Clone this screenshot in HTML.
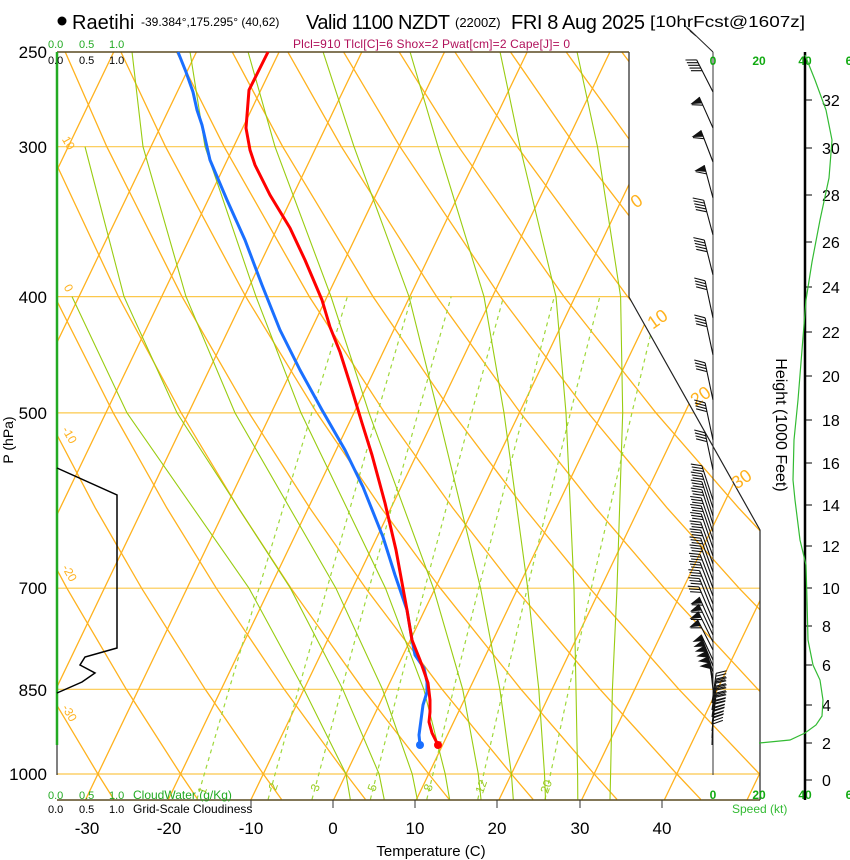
<!DOCTYPE html>
<html><head><meta charset="utf-8"><style>
html,body{margin:0;padding:0;background:#fff;}
svg{display:block;font-family:"Liberation Sans",sans-serif;}
</style></head><body>
<svg width="850" height="860" viewBox="0 0 850 860" xmlns="http://www.w3.org/2000/svg">
<defs>
<clipPath id="cp"><polygon points="57,52 629,52 629,297 760,530 760,800 57,800"/></clipPath>
<g id="b5" fill="none" stroke="#111" stroke-width="1.1"><path d="M0,0L0,-36M0,-36l-10,-5M0,-33l-10,-5M0,-30l-10,-5M0,-27l-10,-5M0,-24l-10,-5"/></g>
<g id="b4" fill="none" stroke="#111" stroke-width="1.1"><path d="M0,0L0,-38M0,-38l-10,-5M0,-35l-10,-5M0,-32l-10,-5M0,-29l-10,-5"/></g>
<g id="b3" fill="none" stroke="#111" stroke-width="1.1"><path d="M0,0L0,-36M0,-36l-10,-5M0,-33l-10,-5M0,-30l-10,-5"/></g>
<g id="bf"><path d="M0,0L0,-34M0,-25l-10,-5" fill="none" stroke="#111" stroke-width="1.1"/><polygon points="0,-34 -11,-31 0,-27" fill="#111"/></g>
<g id="bff"><path d="M0,0L0,-28" fill="none" stroke="#111" stroke-width="1.1"/><polygon points="0,-28 -11,-25 0,-21" fill="#111"/></g>
<g id="bR" fill="none" stroke="#111" stroke-width="1.1"><path d="M0,0L0,-30M0,-30l10,-4M0,-27l10,-4M0,-24l10,-4M0,-21l10,-4"/></g>
</defs>
<g clip-path="url(#cp)" fill="none">
<g stroke="#fcc84c" stroke-width="1.2">
<line x1="57" x2="760" y1="146.7" y2="146.7"/><line x1="57" x2="760" y1="296.6" y2="296.6"/><line x1="57" x2="760" y1="412.9" y2="412.9"/>
<line x1="57" x2="760" y1="588.2" y2="588.2"/><line x1="57" x2="760" y1="689.3" y2="689.3"/><line x1="57" x2="760" y1="774" y2="774"/>
</g>
<g stroke="#ffb21e" stroke-width="1.3">
<line x1="-245.4" y1="800" x2="113.7" y2="52"/><line x1="-162.7" y1="800" x2="196.4" y2="52"/><line x1="-80" y1="800" x2="279.1" y2="52"/>
<line x1="2.7" y1="800" x2="361.8" y2="52"/><line x1="85.4" y1="800" x2="444.5" y2="52"/><line x1="168.1" y1="800" x2="527.2" y2="52"/>
<line x1="250.8" y1="800" x2="609.9" y2="52"/><line x1="333.5" y1="800" x2="692.6" y2="52"/><line x1="416.2" y1="800" x2="775.3" y2="52"/>
<line x1="498.9" y1="800" x2="858" y2="52"/><line x1="581.6" y1="800" x2="940.7" y2="52"/><line x1="664.3" y1="800" x2="1023.4" y2="52"/>
<line x1="747" y1="800" x2="1106.1" y2="52"/>
</g>
<g stroke="#ffb21e" stroke-width="1.3">
<polyline points="113.8,799.4 97.9,774 47.3,689.3 -7.8,588.2 -47.6,507.9 -90.2,412.9"/>
<polyline points="197.7,799.4 180.6,774 126.3,689.3 66.9,588.2 23.9,507.9 -22.4,412.9 -72.6,296.6"/>
<polyline points="281.5,799.4 263.3,774 205.2,689.3 141.6,588.2 95.3,507.9 45.5,412.9 -8.9,296.6 -69,146.7"/>
<polyline points="365.4,799.4 346,774 284.2,689.3 216.3,588.2 166.8,507.9 113.3,412.9 54.7,296.6 -10.4,146.7 -46.2,51.7"/>
<polyline points="449.2,799.4 428.7,774 363.1,689.3 291,588.2 238.3,507.9 181.2,412.9 118.4,296.6 48.2,146.7 9.5,51.7"/>
<polyline points="533.1,799.4 511.4,774 442.1,689.3 365.7,588.2 309.7,507.9 249,412.9 182,296.6 106.8,146.7 65.1,51.7"/>
<polyline points="617,799.4 594.1,774 521,689.3 440.3,588.2 381.2,507.9 316.8,412.9 245.7,296.6 165.5,146.7 120.8,51.7"/>
<polyline points="700.8,799.4 676.8,774 600,689.3 515,588.2 452.7,507.9 384.7,412.9 309.3,296.6 224.1,146.7 176.4,51.7"/>
<polyline points="784.7,799.4 759.5,774 678.9,689.3 589.7,588.2 524.2,507.9 452.5,412.9 373,296.6 282.7,146.7 232.1,51.7"/>
<polyline points="868.5,799.4 842.2,774 757.9,689.3 664.4,588.2 595.6,507.9 520.4,412.9 436.6,296.6 341.4,146.7 287.7,51.7"/>
<polyline points="952.4,799.4 924.9,774 836.8,689.3 739.1,588.2 667.1,507.9 588.2,412.9 500.3,296.6 400,146.7 343.4,51.7"/>
<polyline points="1036.2,799.4 1007.6,774 915.8,689.3 813.8,588.2 738.6,507.9 656,412.9 563.9,296.6 458.6,146.7 399,51.7"/>
<polyline points="1120.1,799.4 1090.3,774 994.7,689.3 888.5,588.2 810,507.9 723.9,412.9 627.6,296.6 517.3,146.7 454.7,51.7"/>
<polyline points="1204,799.4 1173,774 1073.7,689.3 963.2,588.2 881.5,507.9 791.7,412.9 691.2,296.6 575.9,146.7 510.3,51.7"/>
<polyline points="1287.8,799.4 1255.7,774 1152.6,689.3 1037.9,588.2 953,507.9 859.6,412.9 754.9,296.6 634.5,146.7 566,51.7"/>
<polyline points="1371.7,799.4 1338.4,774 1231.6,689.3 1112.6,588.2 1024.5,507.9 927.4,412.9 818.5,296.6 693.1,146.7 621.6,51.7"/>
</g>
<g stroke="#9fd83a" stroke-width="1.2" stroke-dasharray="4,4">
<polyline points="196.9,799.4 229.1,689.3 259,588.2 311.8,412.9 347.4,296.6"/>
<polyline points="268.1,799.4 298.5,689.3 327,588.2 377.5,412.9 411.6,296.6"/>
<polyline points="312,799.4 341.6,689.3 369.1,588.2 418.1,412.9 451.2,296.6"/>
<polyline points="370.4,799.4 398.4,689.3 424.8,588.2 471.7,412.9 503.6,296.6"/>
<polyline points="426.8,799.4 453.6,689.3 478.7,588.2 523.7,412.9 554.3,296.6"/>
<polyline points="477.8,799.4 503.3,689.3 527.3,588.2 570.4,412.9 599.8,296.6"/>
<polyline points="545,799.4 568.8,689.3 591.3,588.2 631.9,412.9 659.7,296.6"/>
</g>
<g stroke="#99cc11" stroke-width="1.1">
<polyline points="350.3,799.4 346,774 303.9,689.3 249,588.2 127,412.9 72,296.6"/>
<polyline points="384.2,799.4 379.1,774 342.8,689.3 290.4,588.2 177,412.9 124,296.6 85,146.7"/>
<polyline points="417.3,799.4 412.2,774 382.5,689.3 335.9,588.2 235,412.9 186,296.6 143,146.7 132,51.7"/>
<polyline points="449.6,799.4 445.2,774 423.8,689.3 385.5,588.2 301,412.9 256,296.6 205,146.7 190,51.7"/>
<polyline points="481,799.4 478.3,774 462.7,689.3 433.4,588.2 369,412.9 331,296.6 275,146.7 248,51.7"/>
<polyline points="513.3,799.4 511.4,774 499.9,689.3 480.6,588.2 438,412.9 409,296.6 354,146.7 323,51.7"/>
<polyline points="545.5,799.4 544.5,774 538.8,689.3 527.7,588.2 504,412.9 484,296.6 438,146.7 410,51.7"/>
<polyline points="577.8,799.4 577.6,774 576,689.3 574,588.2 566,412.9 556,296.6 520,146.7 500,51.7"/>
<polyline points="610,799.4 610.6,774 612.4,689.3 617,588.2 622.7,412.9 620.6,296.6 597.5,146.7 577,51.7"/>
</g>
</g>
<polyline points="629,52 629,297 760,530 760,800" fill="none" stroke="#222" stroke-width="1.2"/>
<line x1="57" x2="629" y1="52" y2="52" stroke="#5a4a20" stroke-width="1.5"/>
<line x1="57" x2="760" y1="800" y2="800" stroke="#5a4a20" stroke-width="1.5"/>
<g stroke="#333"><line x1="251" x2="251" y1="800" y2="808"/><line x1="333" x2="333" y1="800" y2="808"/><line x1="415" x2="415" y1="800" y2="808"/><line x1="497" x2="497" y1="800" y2="808"/><line x1="580" x2="580" y1="800" y2="808"/><line x1="662" x2="662" y1="800" y2="808"/></g>
<line x1="57" x2="57" y1="52" y2="745" stroke="#22aa22" stroke-width="2.5"/>
<line x1="57" x2="57" y1="745" y2="775" stroke="#000" stroke-width="1"/>
<polyline points="57,468 117,495 117,648 85,657 80,665 95,673 82,682 57,693" fill="none" stroke="#000" stroke-width="1.5"/>
<g fill="#ffb21e" font-size="12" text-anchor="middle">
<text transform="translate(65,145) rotate(60)">10</text><text transform="translate(65,290) rotate(60)">0</text>
<text transform="translate(66,437) rotate(60)">-10</text><text transform="translate(66,575) rotate(60)">-20</text><text transform="translate(66,715) rotate(60)">-30</text>
</g>
<g fill="#ffb21e" font-size="18" text-anchor="middle">
<text transform="translate(640,206) rotate(-35)">0</text><text transform="translate(661,324) rotate(-35)">10</text>
<text transform="translate(704,401) rotate(-35)">20</text><text transform="translate(745,484) rotate(-35)">30</text>
</g>
<g fill="#99cc22" font-size="12" text-anchor="middle">
<text transform="translate(206,792) rotate(-70)">1</text><text transform="translate(277,788) rotate(-70)">2</text>
<text transform="translate(319,789) rotate(-70)">3</text><text transform="translate(376,789) rotate(-70)">5</text>
<text transform="translate(432,789) rotate(-70)">8</text><text transform="translate(485,788) rotate(-70)">12</text>
<text transform="translate(550,788) rotate(-70)">20</text>
</g>
<polyline fill="none" stroke="#1a6fff" stroke-width="3" stroke-linejoin="round" points="178,52 186,72 193,92 197,110 202,125 210,160 227,200 245,240 262,285 280,330 300,370 322,410 345,450 363,487 383,537 395,575 407,610 412,640 415,655 424,668 427,682 427,692 423,705 421,720 419,735 420,745"/>
<polyline fill="none" stroke="#ff0000" stroke-width="3" stroke-linejoin="round" points="268,52 259,70 249,90 246,128 250,150 255,165 270,195 290,228 305,260 322,300 330,327 340,352 352,390 362,423 372,455 385,503 396,550 407,610 412,640 420,660 428,683 430,700 430,712 429,722 432,733 438,745"/>
<circle cx="420" cy="745" r="4" fill="#1a6fff"/><circle cx="438" cy="745" r="4" fill="#ff0000"/>
<line x1="713" x2="713" y1="52" y2="775" stroke="#333" stroke-width="1"/>
<line x1="690" x2="713" y1="30" y2="52" stroke="#222" stroke-width="1"/>
<path d="M690,30l-6,-5M693,33l-6,-5M696,36l-6,-5" stroke="#222" fill="none"/>
<use href="#b5" transform="translate(713,92) rotate(-27)"/>
<use href="#bf" transform="translate(713,128) rotate(-24)"/>
<use href="#bf" transform="translate(713,162) rotate(-21)"/>
<use href="#bf" transform="translate(713,198) rotate(-15)"/>
<use href="#b5" transform="translate(713,235) rotate(-15)"/>
<use href="#b5" transform="translate(713,275) rotate(-14)"/>
<use href="#b4" transform="translate(713,318) rotate(-12)"/>
<use href="#b4" transform="translate(713,355) rotate(-12)"/>
<use href="#b4" transform="translate(713,400) rotate(-12)"/>
<use href="#b4" transform="translate(713,440) rotate(-12)"/>
<use href="#b4" transform="translate(713,470) rotate(-12)"/>
<use href="#b3" transform="translate(713,500) rotate(-18)"/><use href="#b3" transform="translate(713,508) rotate(-18)"/>
<use href="#b3" transform="translate(713,516) rotate(-18)"/><use href="#b3" transform="translate(713,524) rotate(-18)"/>
<use href="#b3" transform="translate(713,532) rotate(-19)"/><use href="#b3" transform="translate(713,540) rotate(-19)"/>
<use href="#b3" transform="translate(713,548) rotate(-19)"/><use href="#b3" transform="translate(713,556) rotate(-20)"/>
<use href="#b3" transform="translate(713,564) rotate(-20)"/><use href="#b3" transform="translate(713,572) rotate(-20)"/>
<use href="#b3" transform="translate(713,580) rotate(-20)"/><use href="#b3" transform="translate(713,588) rotate(-21)"/>
<use href="#b3" transform="translate(713,596) rotate(-21)"/><use href="#b3" transform="translate(713,604) rotate(-22)"/>
<use href="#b3" transform="translate(713,612) rotate(-22)"/><use href="#b3" transform="translate(713,620) rotate(-23)"/>
<use href="#bf" transform="translate(713,628) rotate(-24)"/><use href="#bf" transform="translate(713,635) rotate(-25)"/>
<use href="#bf" transform="translate(713,642) rotate(-26)"/><use href="#bf" transform="translate(713,650) rotate(-27)"/>
<use href="#bff" transform="translate(713,660) rotate(-25)"/><use href="#bff" transform="translate(713,666) rotate(-22)"/>
<use href="#bff" transform="translate(713,672) rotate(-18)"/><use href="#bff" transform="translate(713,678) rotate(-14)"/>
<use href="#bff" transform="translate(713,684) rotate(-10)"/><use href="#bff" transform="translate(713,690) rotate(-6)"/>
<use href="#bR" transform="translate(712,703) rotate(8)"/><use href="#bR" transform="translate(712,710) rotate(8)"/>
<use href="#bR" transform="translate(712,717) rotate(8)"/><use href="#bR" transform="translate(712,724) rotate(8)"/>
<use href="#bR" transform="translate(712,731) rotate(6)"/><use href="#bR" transform="translate(712,738) rotate(4)"/>
<use href="#bR" transform="translate(712,745) rotate(2)"/>
<circle cx="62" cy="21" r="4.5" fill="#000"/>
<text x="72" y="29" font-size="20">Raetihi</text>
<text x="141" y="26" font-size="12">-39.384°,175.295° (40,62)</text>
<text x="306" y="29" font-size="20" textLength="144">Valid 1100 NZDT</text>
<text x="455" y="27" font-size="13">(2200Z)</text>
<text x="511" y="29" font-size="20" textLength="134">FRI 8 Aug 2025</text>
<text x="650" y="27" font-size="16" textLength="155" lengthAdjust="spacingAndGlyphs">[10hrFcst@1607z]</text>
<text x="293" y="48" font-size="12" fill="#b0105a" textLength="277">Plcl=910 Tlcl[C]=6 Shox=2 Pwat[cm]=2 Cape[J]= 0</text>
<g font-size="11">
<text x="48" y="48" fill="#2a2">0.0</text><text x="79" y="48" fill="#2a2">0.5</text><text x="109" y="48" fill="#2a2">1.0</text>
<text x="48" y="64">0.0</text><text x="79" y="64">0.5</text><text x="109" y="64">1.0</text>
<text x="48" y="799" fill="#2a2">0.0</text><text x="79" y="799" fill="#2a2">0.5</text><text x="109" y="799" fill="#2a2">1.0</text>
<text x="133" y="799" fill="#2a2" font-size="12">CloudWater (g/Kg)</text>
<text x="48" y="813">0.0</text><text x="79" y="813">0.5</text><text x="109" y="813">1.0</text>
<text x="133" y="813" font-size="12">Grid-Scale Cloudiness</text>
</g>
<g font-size="17" text-anchor="end">
<text x="47" y="58">250</text><text x="47" y="153">300</text><text x="47" y="303">400</text>
<text x="47" y="419">500</text><text x="47" y="594">700</text><text x="47" y="696">850</text><text x="47" y="780">1000</text>
</g>
<text transform="translate(13,440) rotate(-90)" font-size="14" text-anchor="middle">P (hPa)</text>
<g font-size="17" text-anchor="middle">
<text x="87" y="834">-30</text><text x="169" y="834">-20</text><text x="251" y="834">-10</text><text x="333" y="834">0</text>
<text x="415" y="834">10</text><text x="497" y="834">20</text><text x="580" y="834">30</text><text x="662" y="834">40</text>
</g>
<text x="431" y="856" font-size="15" text-anchor="middle">Temperature (C)</text>
<g font-size="12" fill="#1a1" font-weight="bold" text-anchor="middle">
<text x="713" y="65">0</text><text x="759" y="65">20</text><text x="805" y="65">40</text><text x="849" y="65">6</text>
<text x="713" y="799">0</text><text x="759" y="799">20</text><text x="805" y="799">40</text><text x="849" y="799">6</text>
</g>
<text x="732" y="813" font-size="12" fill="#3b3">Speed (kt)</text>
<line x1="805" y1="52" x2="805" y2="800" stroke="#000" stroke-width="2.5"/>
<g stroke="#000">
<line x1="805" x2="812" y1="780" y2="780"/><line x1="805" x2="812" y1="743" y2="743"/><line x1="805" x2="812" y1="705" y2="705"/>
<line x1="805" x2="812" y1="665" y2="665"/><line x1="805" x2="812" y1="626" y2="626"/><line x1="805" x2="812" y1="588" y2="588"/>
<line x1="805" x2="812" y1="546" y2="546"/><line x1="805" x2="812" y1="505" y2="505"/><line x1="805" x2="812" y1="463" y2="463"/>
<line x1="805" x2="812" y1="420" y2="420"/><line x1="805" x2="812" y1="376" y2="376"/><line x1="805" x2="812" y1="332" y2="332"/>
<line x1="805" x2="812" y1="287" y2="287"/><line x1="805" x2="812" y1="242" y2="242"/><line x1="805" x2="812" y1="195" y2="195"/>
<line x1="805" x2="812" y1="148" y2="148"/><line x1="805" x2="812" y1="100" y2="100"/>
</g>
<g font-size="16">
<text x="822" y="786">0</text><text x="822" y="749">2</text><text x="822" y="711">4</text><text x="822" y="671">6</text>
<text x="822" y="632">8</text><text x="822" y="594">10</text><text x="822" y="552">12</text><text x="822" y="511">14</text>
<text x="822" y="469">16</text><text x="822" y="426">18</text><text x="822" y="382">20</text><text x="822" y="338">22</text>
<text x="822" y="293">24</text><text x="822" y="248">26</text><text x="822" y="201">28</text><text x="822" y="154">30</text>
<text x="822" y="106">32</text>
</g>
<text transform="translate(776,425) rotate(90)" font-size="16" text-anchor="middle">Height (1000 Feet)</text>
<polyline fill="none" stroke="#33bb33" stroke-width="1.2" points="759,743 790,740 805,733 816,725 822,716 823,700 820,680 813,665 808,640 807,600 806,565 800,540 795,500 793,480 794,440 798,400 802,350 806,300 812,262 820,220 829,178 832,140 826,110 815,80 805,55"/>
</svg>
</body></html>
